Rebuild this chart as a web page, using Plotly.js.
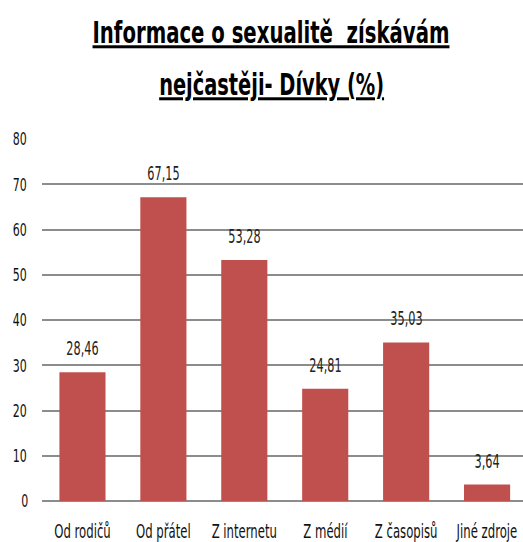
<!DOCTYPE html>
<html><head><meta charset="utf-8">
<script src="https://cdn.plot.ly/plotly-3.0.1.min.js"></script>
<style>html,body{margin:0;padding:0;background:#fff;}</style>
</head><body>
<div id="chart" style="width:523px;height:542px;"></div>
<script>
const categories = ["Od rodičů", "Od přátel", "Z internetu", "Z médií", "Z časopisů", "Jiné zdroje"];
const values = [28.46, 67.15, 53.28, 24.81, 35.03, 3.64];
const titleLine1 = "Informace o sexualitě  získávám";
const titleLine2 = "nejčastěji- Dívky (%)";

const FONT = "'DejaVu Sans Condensed', 'DejaVu Sans', sans-serif";
const U = s => '<span style="text-decoration:underline;text-decoration-thickness:3px;text-underline-offset:5px">' + s + '</span>';

const trace = {
  type: "bar",
  x: categories,
  y: values,
  marker: {color: "#C0504D"},
  width: 0.57,
  textposition: "none",
  hoverinfo: "skip"
};

const valueLabels = categories.map((c, i) => ({
  x: c, y: values[i], xref: "x", yref: "y",
  text: values[i].toFixed(2).replace(".", ","),
  showarrow: false, yanchor: "bottom", yshift: 11,
  font: {family: FONT, size: 19, color: "#222"}
}));

const titleLine2Ann = {
  text: "<b>" + U(titleLine2) + "</b>",
  xref: "paper", yref: "paper",
  x: (271 - 41.5) / (523 - 41.5), y: 1.096,
  xanchor: "center", yanchor: "bottom", showarrow: false,
  font: {family: FONT, size: 30, color: "#000"}
};

const layout = {
  width: 523, height: 542,
  margin: {l: 41.5, r: 0, t: 139, b: 41, pad: 0},
  paper_bgcolor: "#fff", plot_bgcolor: "#fff",
  showlegend: false,
  title: {
    text: "<b>" + U(titleLine1) + "</b>",
    font: {family: FONT, size: 30, color: "#000"},
    x: 271 / 523, xanchor: "center", xref: "container",
    y: 1 - 22 / 542, yref: "container", yanchor: "top"
  },
  annotations: valueLabels.concat([titleLine2Ann]),
  xaxis: {
    type: "category",
    range: [-0.5, 5.444],
    showgrid: false,
    showline: false,
    ticks: "",
    tickangle: 0,
    tickfont: {family: FONT, size: 20, color: "#111"},
    ticklabelstandoff: 16
  },
  yaxis: {
    range: [0, 80],
    dtick: 10,
    showgrid: true,
    gridcolor: "#8c8c8c",
    gridwidth: 2,
    zeroline: true,
    zerolinecolor: "#8c8c8c",
    zerolinewidth: 2,
    showline: false,
    ticks: "",
    tickfont: {family: FONT, size: 18, color: "#111"},
    ticklabelstandoff: 11
  }
};

function squash(el, s) {
  const bb = el.getBBox();
  const cx = bb.x + bb.width / 2;
  const t = el.getAttribute("transform") || "";
  el.setAttribute("transform", t + " translate(" + cx + ",0) scale(" + s + ",1) translate(" + (-cx) + ",0)");
}
function squashTo(el, w) {
  if (el) squash(el, w / el.getBBox().width);
}

Plotly.newPlot("chart", [trace], layout, {displayModeBar: false, staticPlot: true}).then(gd => {
  squashTo(gd.querySelector(".gtitle"), 357);
  const anns = gd.querySelectorAll(".annotation");
  anns.forEach(a => {
    const idx = +a.getAttribute("data-index");
    const t = a.querySelector(".annotation-text");
    if (idx === categories.length) squashTo(t, 225);
    else squash(t, 0.66);
  });
  gd.querySelectorAll(".xtick text").forEach(el => squash(el, 0.65));
  gd.querySelectorAll(".ytick text").forEach(el => squash(el, 0.68));
});
</script>
</body></html>
